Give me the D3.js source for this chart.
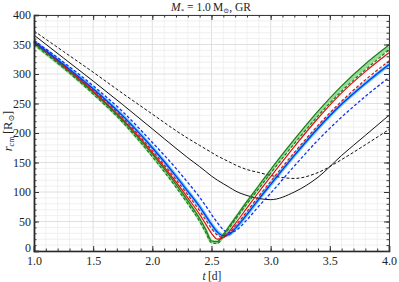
<!DOCTYPE html>
<html><head><meta charset="utf-8">
<script src="https://cdn.jsdelivr.net/npm/d3@7"></script>
<style>body{margin:0;background:#fff}svg{display:block}text{font-family:"Liberation Serif","DejaVu Serif",serif;fill:#222}</style>
</head><body><svg id="c" width="399" height="282"></svg>
<script>
const times = [1.0,1.25,1.5,1.75,2.0,2.2,2.3,2.4,2.45,2.5,2.55,2.6,2.65,2.7,2.8,2.9,3.0,3.2,3.4,3.6,3.8,4.0];
const greenLight = [351,311,268,220,162,111,83,53,35,16,15,26,40,54,82,108,135,186,233,276,312,345];
const greenSolid = [352,312,269,221,164,113,85,55,37,17,16,28,42,56,84,111,138,189,237,280,317,349];
const greenDashed = [350,310,266,218,160,108,80,50,32,14,13,25,39,53,80,106,132,182,229,271,307,341];
const redSolid = [354,314,271,223,167,117,90,62,46,30,20,23,33,46,73,100,126,177,225,268,304,336];
const redDashed = [355,315,273,226,170,121,95,68,53,38,27,23,30,42,67,93,118,167,213,254,290,322];
const blueLight = [355,316,275,229,175,127,101,75,60,45,32,26,28,38,62,88,113,162,208,249,284,316];
const blueSolid = [355,316,275,229,175,127,101,75,60,45,32,26,28,38,62,88,113,162,208,249,284,316];
const blueDashed = [357,320,280,236,184,140,116,91,77,62,48,36,31,34,53,76,98,144,188,227,262,294];
const blackSolid = [366,327,288,248,207,174,158,143,135,127,120,114,108,102,94,89,87,100,125,162,196,230];
const blackDashed = [373,338,303,267,232,204,191,179,173,167,161,156,151,146,138,133,128,123,133,155,180,206];
const xTicks = [1.0,1.5,2.0,2.5,3.0,3.5,4.0];
const yTicks = [0,50,100,150,200,250,300,350,400];

const svg = d3.select("#c");
const x = d3.scaleLinear().domain([1,4]).range([34,389]);
const y = d3.scaleLinear().domain([0,400]).range([251,15]);

// grid
const xMinor = d3.range(10,41).map(d=>d/10);
const yMinor = d3.range(0,41).map(d=>d*10);
const g = svg.append("g");
g.selectAll(".gx").data(xMinor).join("line")
 .attr("x1",d=>x(d)).attr("x2",d=>x(d)).attr("y1",y(0)).attr("y2",y(400))
 .attr("stroke",d=>Math.abs(d*2-Math.round(d*2))<1e-6?"#d8d8d8":"#ececec").attr("stroke-width",0.8);
g.selectAll(".gy").data(yMinor).join("line")
 .attr("y1",d=>y(d)).attr("y2",d=>y(d)).attr("x1",x(1)).attr("x2",x(4))
 .attr("stroke",d=>d%50===0?"#d8d8d8":"#ececec").attr("stroke-width",0.8);

// curves
const line = d3.line().x((d,i)=>x(times[i])).y(d=>y(d)).curve(d3.curveMonotoneX);
const series = [
 {v:greenLight,c:"#95dd95",w:3.5,dash:null},
 {v:blueLight,c:"#55ccff",w:3.5,dash:null},
 {v:blackDashed,c:"#111",w:1,dash:"3,2"},
 {v:blackSolid,c:"#111",w:1,dash:null},
 {v:greenSolid,c:"#1f7a1f",w:1.2,dash:null},
 {v:greenDashed,c:"#1f7a1f",w:1.2,dash:"3,2"},
 {v:redSolid,c:"#dd1111",w:1.2,dash:null},
 {v:redDashed,c:"#dd1111",w:1.2,dash:"3,2"},
 {v:blueSolid,c:"#1133ee",w:1.3,dash:null},
 {v:blueDashed,c:"#1133ee",w:1.3,dash:"3,2"}
];
svg.append("g").selectAll("path").data(series).join("path")
 .attr("d",d=>line(d.v)).attr("fill","none").attr("stroke",d=>d.c)
 .attr("stroke-width",d=>d.w).attr("stroke-dasharray",d=>d.dash);

// axes with inward ticks
function ax(gen, tr){ return svg.append("g").attr("transform",tr).call(gen); }
const fmt = d3.format(".1f");
const bx = ax(d3.axisBottom(x).tickValues(xTicks).tickSize(-5).tickPadding(5).tickFormat(fmt),`translate(0,${y(0)})`);
ax(d3.axisBottom(x).tickValues(xMinor).tickSize(-2.5).tickFormat(""),`translate(0,${y(0)})`);
const ly = ax(d3.axisLeft(y).tickValues(yTicks).tickSize(-5).tickPadding(3).tickFormat(d3.format("d")),`translate(${x(1)},0)`);
ax(d3.axisLeft(y).tickValues(yMinor).tickSize(-2.5).tickFormat(""),`translate(${x(1)},0)`);
ax(d3.axisTop(x).tickValues(xTicks).tickSize(-5).tickFormat(""),`translate(0,${y(400)})`);
ax(d3.axisTop(x).tickValues(xMinor).tickSize(-2.5).tickFormat(""),`translate(0,${y(400)})`);
ax(d3.axisRight(y).tickValues(yTicks).tickSize(-5).tickFormat(""),`translate(${x(4)},0)`);
ax(d3.axisRight(y).tickValues(yMinor).tickSize(-2.5).tickFormat(""),`translate(${x(4)},0)`);
svg.selectAll(".domain").attr("stroke","#333").attr("stroke-width",0.8);
svg.selectAll(".tick line").attr("stroke","#333");
bx.select(".domain").attr("stroke","#000").attr("stroke-width",1.6);
ly.select(".domain").attr("stroke","#000").attr("stroke-width",1.6);
svg.selectAll(".tick text").attr("font-size",12).attr("font-family","Liberation Serif").attr("fill","#333");
ly.selectAll(".tick").filter(d=>d===0).select("text").attr("dy","0.05em");

// title
const t = svg.append("text").attr("x",211).attr("y",11).attr("text-anchor","middle").attr("font-size",11.5);
t.append("tspan").attr("font-style","italic").text("M");
t.append("tspan").attr("font-size",7).attr("dy",2).text("*");
t.append("tspan").attr("dy",-2).text(" = 1.0\u2009M");
t.append("tspan").attr("font-size",7).attr("dy",2).text("\u2299");
t.append("tspan").attr("dy",-2).text(", GR");

// y label
const yl = svg.append("text").attr("transform","translate(12,131) rotate(-90)").attr("text-anchor","middle").attr("font-size",12.5);
yl.append("tspan").attr("font-style","italic").text("r");
yl.append("tspan").attr("font-size",8).attr("dy",2).text("cm");
yl.append("tspan").attr("dy",-2).text("\u2009[R");
yl.append("tspan").attr("font-size",8).attr("dy",2).text("\u2299");
yl.append("tspan").attr("dy",-2).text("]");

// x label
const xl = svg.append("text").attr("x",212).attr("y",280).attr("text-anchor","middle").attr("font-size",11.5);
xl.append("tspan").attr("font-style","italic").text("t");
xl.append("tspan").text("\u2009[d]");
</script></body></html>
